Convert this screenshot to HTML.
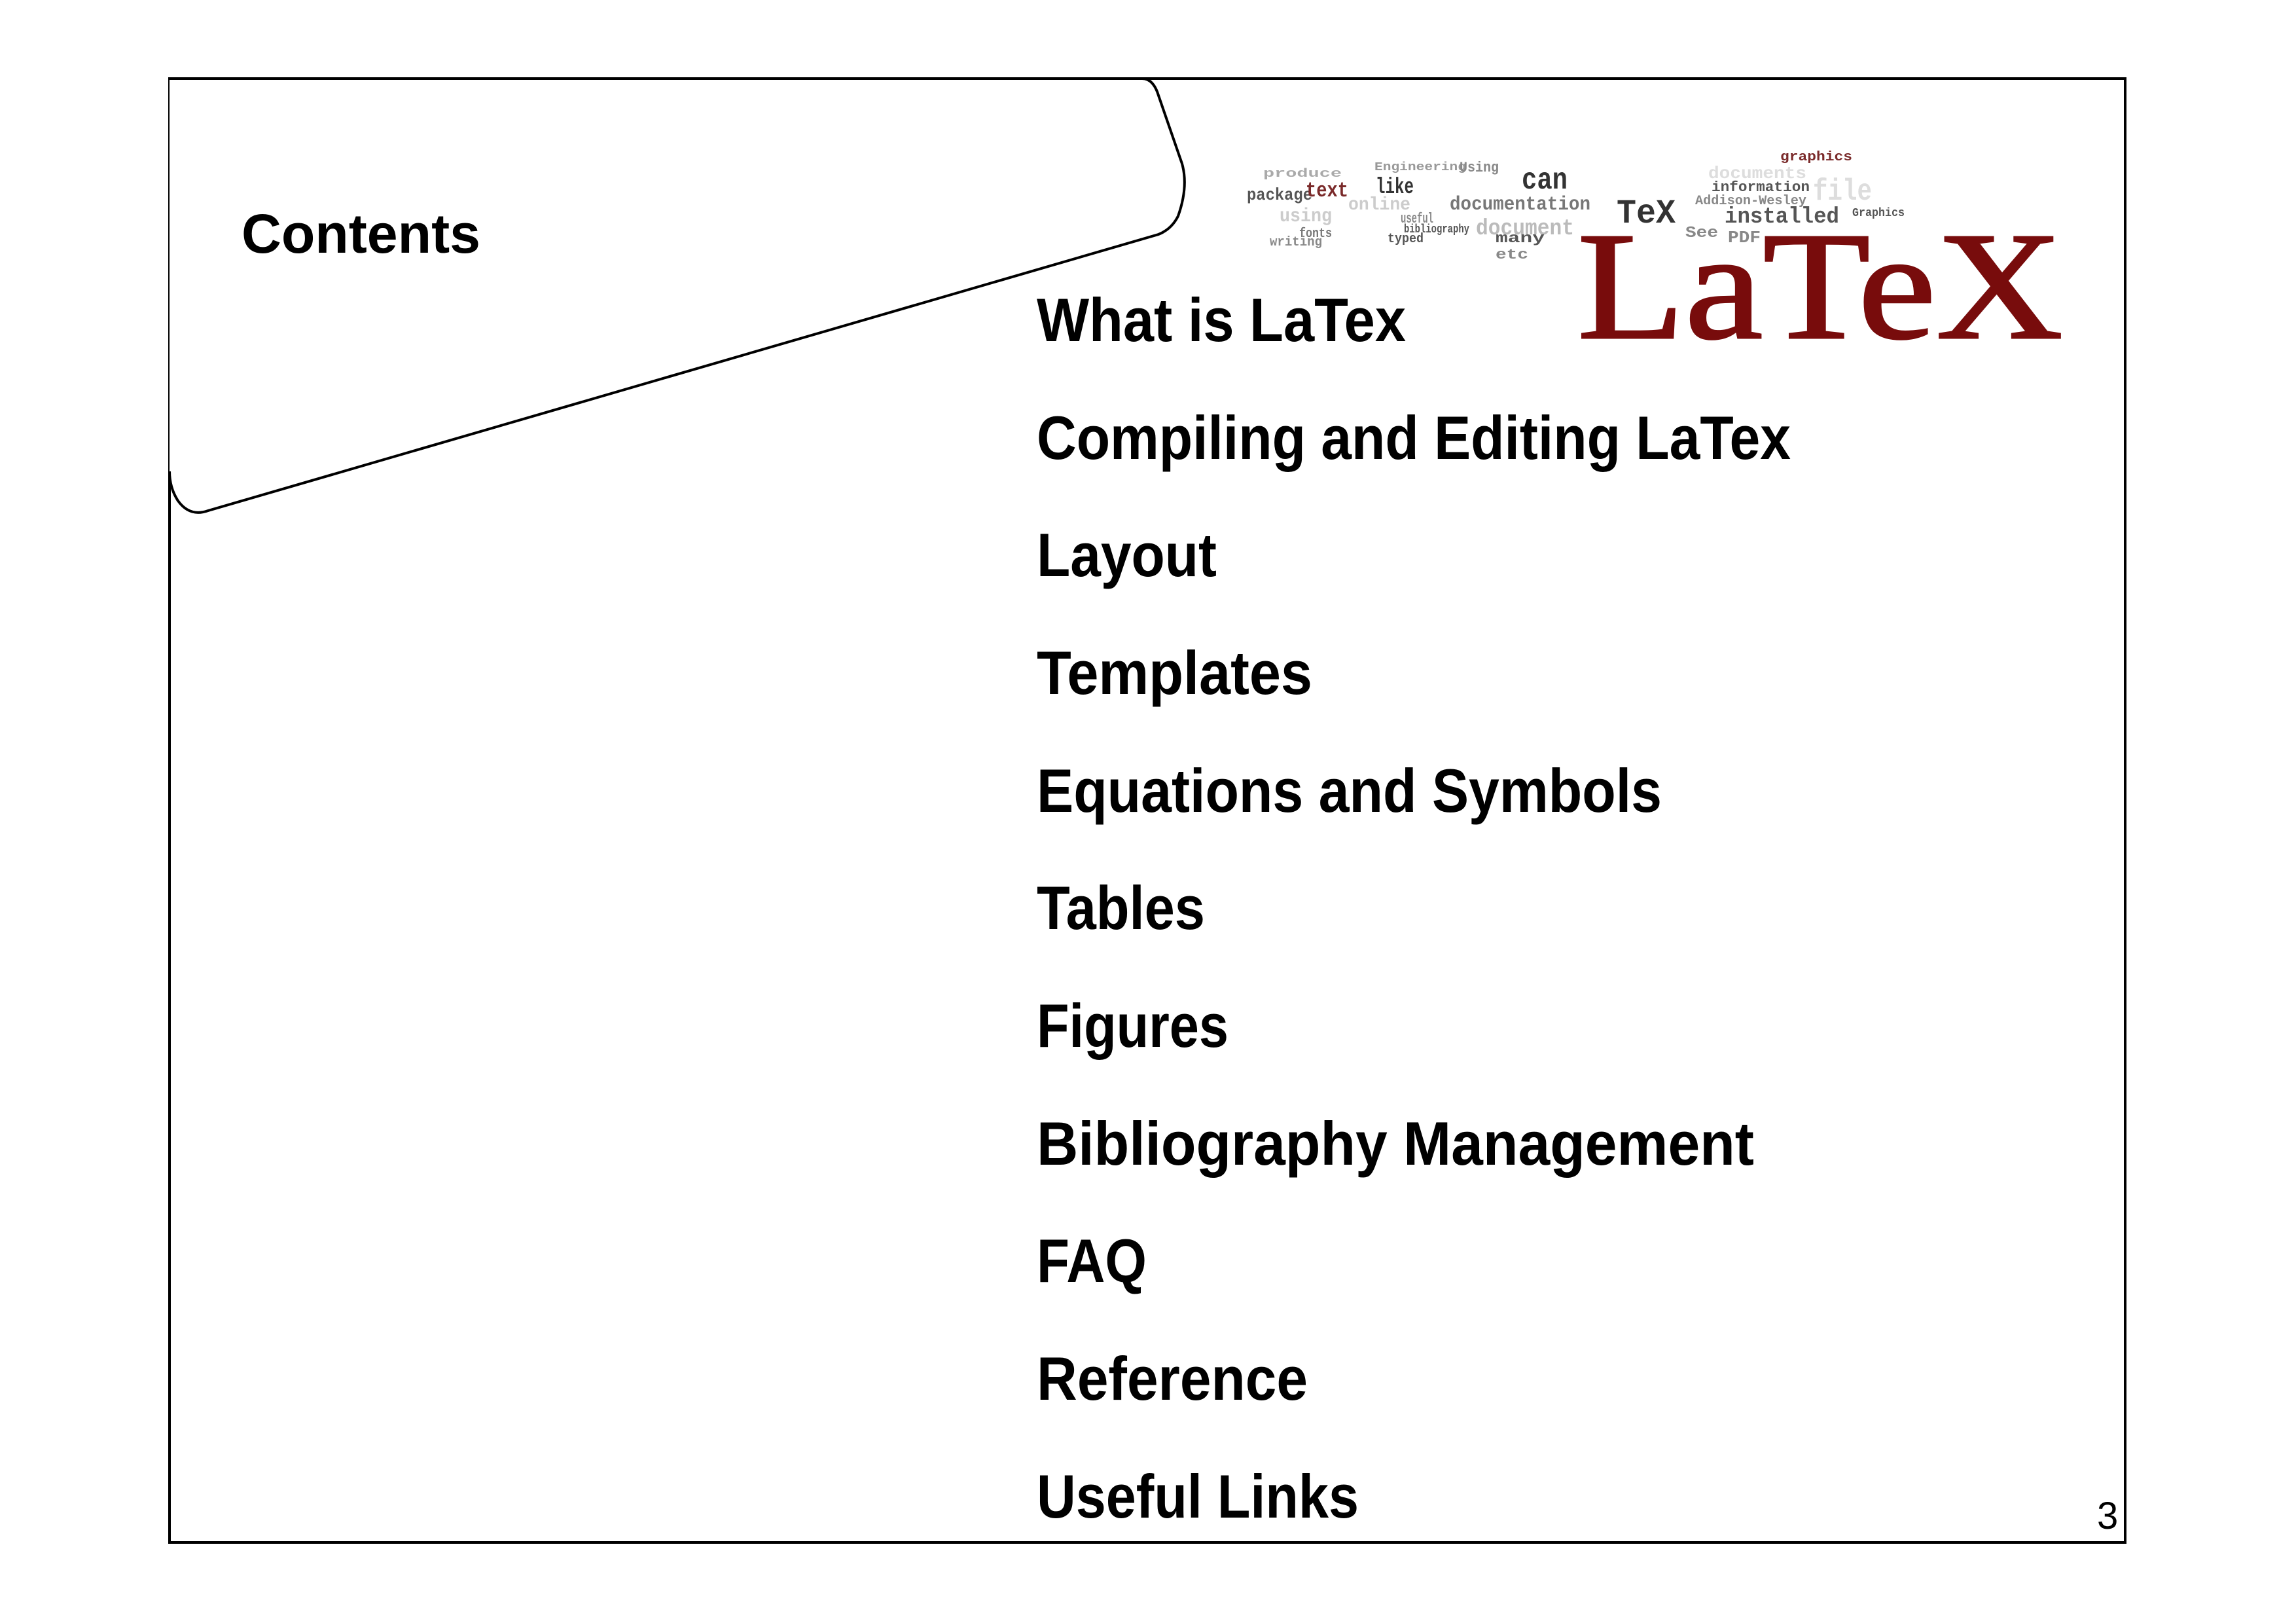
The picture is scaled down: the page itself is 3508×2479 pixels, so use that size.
<!DOCTYPE html>
<html><head><meta charset="utf-8"><style>html,body{margin:0;padding:0;background:#fff}svg{display:block}</style></head>
<body>
<svg width="3508" height="2479" viewBox="0 0 3508 2479" xmlns="http://www.w3.org/2000/svg">
<rect x="0" y="0" width="3508" height="2479" fill="#fff"/>
<rect x="259" y="120" width="2988" height="2236" fill="none" stroke="#000" stroke-width="4"/>
<path d="M259,120 L1745,120 Q1760,120 1768,140 L1806,250 Q1816,285 1800,330 Q1790,350 1770,358 L318,780 Q290,790 272,765 Q259,745 259,720" fill="#fff" stroke="#000" stroke-width="4"/>
<g font-family="Liberation Mono, monospace" font-weight="bold">
<text x="1930" y="270" font-size="18" fill="#aaa" textLength="120" lengthAdjust="spacingAndGlyphs">produce</text>
<text x="2100" y="260" font-size="18" fill="#999" textLength="140" lengthAdjust="spacingAndGlyphs">Engineering</text>
<text x="2230" y="262" font-size="22" fill="#888" textLength="60" lengthAdjust="spacingAndGlyphs">Using</text>
<text x="1905" y="305" font-size="26" fill="#555" textLength="100" lengthAdjust="spacingAndGlyphs">package</text>
<text x="1995" y="300" font-size="32" fill="#7a2a2a" textLength="65" lengthAdjust="spacingAndGlyphs">text</text>
<text x="2102" y="295" font-size="34" fill="#333" textLength="58" lengthAdjust="spacingAndGlyphs">like</text>
<text x="2325" y="288" font-size="46" fill="#333" textLength="70" lengthAdjust="spacingAndGlyphs">can</text>
<text x="2215" y="320" font-size="30" fill="#777" textLength="215" lengthAdjust="spacingAndGlyphs">documentation</text>
<text x="2255" y="358" font-size="34" fill="#bbb" textLength="150" lengthAdjust="spacingAndGlyphs">document</text>
<text x="1955" y="338" font-size="30" fill="#ccc" textLength="80" lengthAdjust="spacingAndGlyphs">using</text>
<text x="2060" y="320" font-size="28" fill="#ccc" textLength="95" lengthAdjust="spacingAndGlyphs">online</text>
<text x="2140" y="340" font-size="22" fill="#888" textLength="50" lengthAdjust="spacingAndGlyphs">useful</text>
<text x="2145" y="355" font-size="18" fill="#555" textLength="100" lengthAdjust="spacingAndGlyphs">bibliography</text>
<text x="2120" y="370" font-size="20" fill="#555" textLength="55" lengthAdjust="spacingAndGlyphs">typed</text>
<text x="1985" y="362" font-size="20" fill="#777" textLength="50" lengthAdjust="spacingAndGlyphs">fonts</text>
<text x="2470" y="340" font-size="52" fill="#333" textLength="90" lengthAdjust="spacingAndGlyphs">TeX</text>
<text x="2635" y="340" font-size="34" fill="#555" textLength="175" lengthAdjust="spacingAndGlyphs">installed</text>
<text x="2615" y="292" font-size="22" fill="#555" textLength="150" lengthAdjust="spacingAndGlyphs">information</text>
<text x="2770" y="305" font-size="46" fill="#ddd" textLength="90" lengthAdjust="spacingAndGlyphs">file</text>
<text x="2590" y="312" font-size="20" fill="#888" textLength="170" lengthAdjust="spacingAndGlyphs">Addison-Wesley</text>
<text x="2285" y="370" font-size="22" fill="#555" textLength="75" lengthAdjust="spacingAndGlyphs">many</text>
<text x="2285" y="395" font-size="22" fill="#888" textLength="50" lengthAdjust="spacingAndGlyphs">etc</text>
<text x="1940" y="375" font-size="20" fill="#888" textLength="80" lengthAdjust="spacingAndGlyphs">writing</text>
<text x="2640" y="370" font-size="26" fill="#888" textLength="50" lengthAdjust="spacingAndGlyphs">PDF</text>
<text x="2575" y="362" font-size="24" fill="#888" textLength="50" lengthAdjust="spacingAndGlyphs">See</text>
<text x="2720" y="245" font-size="20" fill="#7a2a2a" textLength="110" lengthAdjust="spacingAndGlyphs">graphics</text>
<text x="2610" y="272" font-size="26" fill="#ddd" textLength="150" lengthAdjust="spacingAndGlyphs">documents</text>
<text x="2830" y="330" font-size="18" fill="#555" textLength="80" lengthAdjust="spacingAndGlyphs">Graphics</text>
<text x="2410" y="516" font-size="235" font-weight="normal" font-family="Liberation Serif, serif" fill="#780c0c" stroke="#780c0c" stroke-width="3" textLength="742" lengthAdjust="spacingAndGlyphs">LaTeX</text>
</g>
<g font-family="Liberation Sans, sans-serif" font-weight="bold" fill="#000">
<text x="369" y="386" font-size="84" textLength="365" lengthAdjust="spacingAndGlyphs">Contents</text>
<g font-size="94">
<text x="1584" y="521" textLength="564" lengthAdjust="spacingAndGlyphs">What is LaTex</text>
<text x="1584" y="701" textLength="1152" lengthAdjust="spacingAndGlyphs">Compiling and Editing LaTex</text>
<text x="1584" y="880" textLength="275" lengthAdjust="spacingAndGlyphs">Layout</text>
<text x="1584" y="1060" textLength="421" lengthAdjust="spacingAndGlyphs">Templates</text>
<text x="1584" y="1240" textLength="955" lengthAdjust="spacingAndGlyphs">Equations and Symbols</text>
<text x="1584" y="1419" textLength="257" lengthAdjust="spacingAndGlyphs">Tables</text>
<text x="1584" y="1599" textLength="293" lengthAdjust="spacingAndGlyphs">Figures</text>
<text x="1584" y="1779" textLength="1096" lengthAdjust="spacingAndGlyphs">Bibliography Management</text>
<text x="1584" y="1958" textLength="168" lengthAdjust="spacingAndGlyphs">FAQ</text>
<text x="1584" y="2138" textLength="414" lengthAdjust="spacingAndGlyphs">Reference</text>
<text x="1584" y="2318" textLength="492" lengthAdjust="spacingAndGlyphs">Useful Links</text>
</g>
</g>
<text x="3204" y="2335" font-family="Liberation Sans, sans-serif" font-size="58" fill="#000">3</text>
</svg>
</body></html>
